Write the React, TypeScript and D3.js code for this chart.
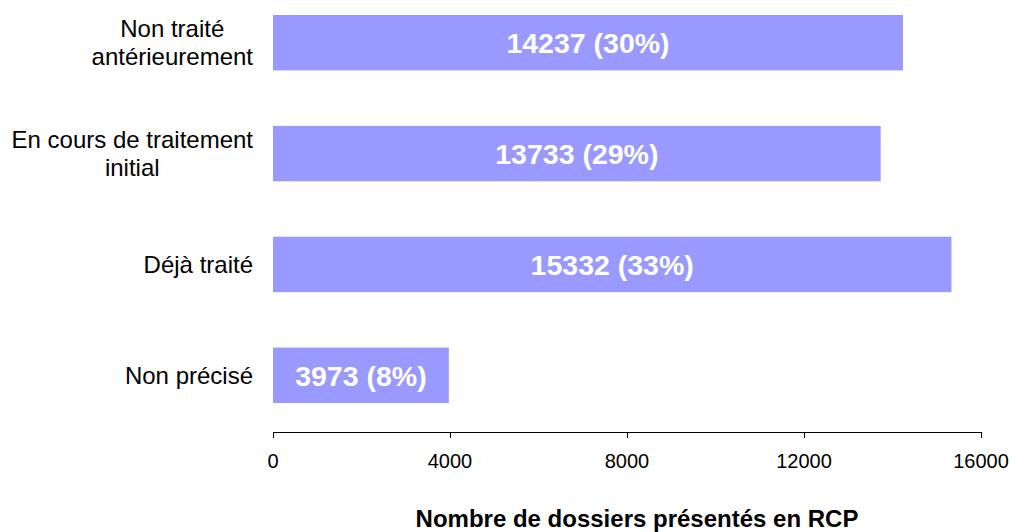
import * as d3 from 'd3';

const categories: string[][] = [
  ['Non traité', 'antérieurement'],
  ['En cours de traitement', 'initial'],
  ['Déjà traité'],
  ['Non précisé'],
];
const counts = [14237, 13733, 15332, 3973];
const percents = [30, 29, 33, 8];
const xTicks = [0, 4000, 8000, 12000, 16000];
const xTitle = 'Nombre de dossiers présentés en RCP';

const W = 1012;
const H = 532;
const font = 'Liberation Sans, Arial, sans-serif';
const barColor = '#9999ff';

// width of a text line, so that multi-line labels can be centred on their block
let ctx: CanvasRenderingContext2D | null = null;
function textWidth(s: string, size: number) {
  if (!ctx) ctx = document.createElement('canvas').getContext('2d');
  if (!ctx) return s.length * size * 0.5;
  ctx.font = `${size}px ${font}`;
  return ctx.measureText(s).width;
}

export default function App() {
  const x = d3.scaleLinear().domain([0, 16000]).range([273, 981]);
  const y = d3
    .scaleBand<number>()
    .domain(counts.map((_, i) => i))
    .range([15, 403])
    .paddingInner(0.5);

  const axisY = 432;
  const labelRight = 253;
  const labelSize = 24;

  return (
    <svg
      width={W}
      height={H}
      style={{ position: 'absolute', left: 0, top: 0, background: '#fff' }}
      fontFamily={font}
    >
      {/* bars */}
      {counts.map((v, i) => {
        const y0 = y(i) ?? 0;
        const bw = y.bandwidth();
        return (
          <g key={i}>
            <rect x={x(0)} y={y0} width={x(v) - x(0)} height={bw} fill={barColor} />
            <text
              x={(x(0) + x(v)) / 2}
              y={y0 + bw / 2}
              dy="0.36em"
              textAnchor="middle"
              fill="#fff"
              fontWeight="bold"
              fontSize={28.5}
            >
              {`${v} (${percents[i]}%)`}
            </text>
          </g>
        );
      })}

      {/* category labels */}
      {categories.map((lines, i) => {
        const cy = (y(i) ?? 0) + y.bandwidth() / 2;
        const lh = 28;
        const start = cy - ((lines.length - 1) * lh) / 2;
        const maxW = d3.max(lines, (l) => textWidth(l, labelSize)) ?? 0;
        const cx = labelRight - maxW / 2;
        return (
          <text key={i} textAnchor="middle" fontSize={labelSize} fill="#000">
            {lines.map((l, j) => (
              <tspan key={j} x={cx} y={start + j * lh} dy="0.36em">
                {l}
              </tspan>
            ))}
          </text>
        );
      })}

      {/* x axis */}
      <line x1={x(0)} x2={x(16000)} y1={axisY + 0.5} y2={axisY + 0.5} stroke="#000" />
      {xTicks.map((t) => (
        <g key={t}>
          <line
            x1={Math.round(x(t)) + 0.5}
            x2={Math.round(x(t)) + 0.5}
            y1={axisY}
            y2={axisY + 6}
            stroke="#000"
          />
          <text x={x(t)} y={468} textAnchor="middle" fontSize={20} fill="#000">
            {t}
          </text>
        </g>
      ))}

      <text x={637} y={527} textAnchor="middle" fontSize={24} fontWeight="bold" fill="#000">
        {xTitle}
      </text>
    </svg>
  );
}
